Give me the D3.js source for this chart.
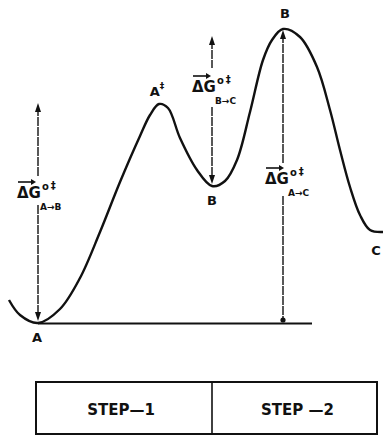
<!DOCTYPE html>
<html><head><meta charset="utf-8">
<script src="https://cdn.jsdelivr.net/npm/d3@7"></script>
<style>html,body{margin:0;padding:0;background:#fff;}svg{display:block;}</style>
</head><body>
<script>
// Reaction coordinate (arbitrary units) and free energy (arbitrary units, 0 = state A)
const reactionCoord = [0, 11, 29, 51, 71, 91, 111, 131, 141, 150, 159, 171, 188, 203, 216, 228, 241, 254, 263, 274, 291, 308, 321, 331, 341, 351, 361, 374];
const freeEnergy    = [23, 8, 0, 14, 45, 91, 141, 187, 208, 219, 215, 185, 153, 137, 142, 163, 211, 263, 283, 294, 286, 256, 213, 173, 136, 108, 93, 91];
// States
const stateNames = ["A", "A‡", "B", "B", "C"];
const stateCoord = [29, 150, 203, 276, 367];
const stateEnergy = [0, 219, 137, 294, 91];
// Free-energy arrows: [from coord, energy low, energy high]
const arrowNames = ["A→B", "B→C", "A→C"];
const arrowCoord = [29, 203, 274];
const arrowLow = [0, 137, 0];
const arrowHigh = [221, 288, 294];
const steps = ["STEP—1", "STEP —2"];
const stepBounds = [27, 203, 368];

const W = 383, H = 436;
const svg = d3.select("body").append("svg").attr("width", W).attr("height", H);
const x = d3.scaleLinear().domain([0, 374]).range([9, 383]);
const y = d3.scaleLinear().domain([0, 294]).range([323, 29]);
const ink = "#111";
const font = "'DejaVu Sans', 'Liberation Sans', sans-serif";

// baseline
svg.append("line").attr("x1", x(29)).attr("x2", x(303)).attr("y1", y(0)+0.5).attr("y2", y(0)+0.5)
  .attr("stroke", ink).attr("stroke-width", 2);

// curve
const pts = reactionCoord.map((c, i) => [c, freeEnergy[i]]);
svg.append("path").datum(pts)
  .attr("d", d3.line().x(d => x(d[0])).y(d => y(d[1])).curve(d3.curveCatmullRom.alpha(0.5)))
  .attr("fill", "none").attr("stroke", ink).attr("stroke-width", 2.4);

function arrowHead(px, py, dir) { // dir: -1 up, 1 down
  svg.append("path").attr("d", `M${px},${py} L${px-3},${py-dir*9} L${px+3},${py-dir*9} Z`).attr("fill", ink);
}
function vline(px, y1, y2) {
  svg.append("line").attr("x1", px).attr("x2", px).attr("y1", y1).attr("y2", y2)
    .attr("stroke", ink).attr("stroke-width", 1.4).attr("stroke-dasharray", "9,1");
}

// label geometry for each arrow: [dgX, dgBaseline, gapTop, gapBottom]
const lab = [[17, 198, 177, 205], [192, 92, 68, 107], [265, 184, 163, 196]];
arrowNames.forEach((name, i) => {
  const px = x(arrowCoord[i]);
  const top = y(arrowHigh[i]) + 1, bot = y(arrowLow[i]) - 2;
  vline(px, top + 4, lab[i][2]);
  vline(px, lab[i][3], bot - (i === 2 ? 0 : 4));
  if (i < 2) { arrowHead(px, top, -1); arrowHead(px, bot, 1); }
  else { arrowHead(px, top, -1); svg.append("circle").attr("cx", px).attr("cy", bot - 1).attr("r", 2.6).attr("fill", ink); }
  const [lx, lb] = lab[i];
  // vector arrow over ΔG
  svg.append("line").attr("x1", lx + 1).attr("x2", lx + 17).attr("y1", lb - 16).attr("y2", lb - 16).attr("stroke", ink).attr("stroke-width", 1.6);
  svg.append("path").attr("d", `M${lx+19},${lb-16} L${lx+14},${lb-19} L${lx+14},${lb-13} Z`).attr("fill", ink);
  const t = svg.append("text").attr("x", lx).attr("y", lb).attr("font-family", font).attr("font-weight", "bold")
    .attr("font-size", 15).attr("fill", ink);
  t.append("tspan").text("ΔG");
  t.append("tspan").attr("dx", 1).attr("dy", -8).attr("font-size", 10).text("o");
  t.append("tspan").attr("dx", 2).attr("dy", -1).attr("font-size", 10).text("‡");
  svg.append("text").attr("x", lx + 23).attr("y", lb + 12).attr("font-family", font).attr("font-weight", "bold")
    .attr("font-size", 9).attr("fill", ink).text(name);
});

// state labels
const stateLab = [[37, 342], [157, 96], [212, 205], [285, 18], [376, 255]];
stateNames.forEach((n, i) => {
  const t = svg.append("text").attr("x", stateLab[i][0]).attr("y", stateLab[i][1]).attr("text-anchor", "middle")
    .attr("font-family", font).attr("font-weight", "bold").attr("font-size", 13).attr("fill", ink);
  if (n.length > 1) { t.append("tspan").text(n[0]); t.append("tspan").attr("dy", -7).attr("font-size", 9).text(n.slice(1)); }
  else t.text(n);
});

// step boxes
const by = 382, bh = 52;
svg.append("rect").attr("x", x(stepBounds[0])).attr("y", by).attr("width", x(stepBounds[2]) - x(stepBounds[0])).attr("height", bh)
  .attr("fill", "none").attr("stroke", ink).attr("stroke-width", 2);
svg.append("line").attr("x1", x(stepBounds[1])).attr("x2", x(stepBounds[1])).attr("y1", by).attr("y2", by + bh)
  .attr("stroke", ink).attr("stroke-width", 1.6);
steps.forEach((s, i) => {
  svg.append("text").attr("x", (x(stepBounds[i]) + x(stepBounds[i+1])) / 2 + (i === 0 ? -3 : 3)).attr("y", 415)
    .attr("text-anchor", "middle").attr("font-family", font).attr("font-weight", "bold").attr("font-size", 15)
    .attr("fill", ink).text(s);
});
</script>
</body></html>
